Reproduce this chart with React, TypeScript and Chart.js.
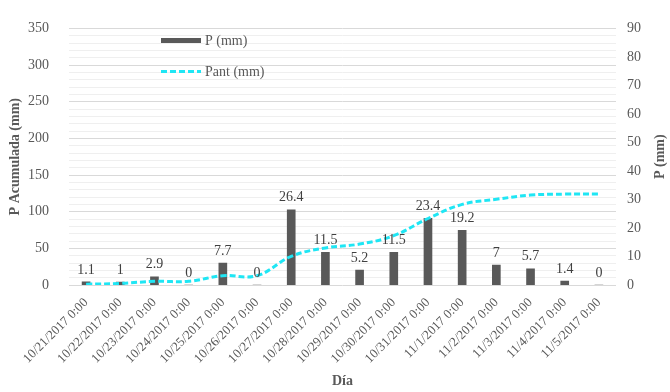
import React, { useEffect, useRef } from 'react';
import { Chart, registerables } from 'chart.js';
Chart.register(...registerables);

const categories = [
  '10/21/2017 0:00', '10/22/2017 0:00', '10/23/2017 0:00', '10/24/2017 0:00',
  '10/25/2017 0:00', '10/26/2017 0:00', '10/27/2017 0:00', '10/28/2017 0:00',
  '10/29/2017 0:00', '10/30/2017 0:00', '10/31/2017 0:00', '11/1/2017 0:00',
  '11/2/2017 0:00', '11/3/2017 0:00', '11/4/2017 0:00', '11/5/2017 0:00',
];
const pValues = [1.1, 1, 2.9, 0, 7.7, 0, 26.4, 11.5, 5.2, 11.5, 23.4, 19.2, 7, 5.7, 1.4, 0];
const pantValues = [1.1, 2.1, 5.0, 5.0, 12.7, 12.7, 39.1, 50.6, 55.8, 67.3, 90.7, 109.9, 116.9, 122.6, 124.0, 124.0];

const FONT = '"Liberation Serif", "Times New Roman", serif';
const TEXT = '#595959';
const BAR = '#595959';
const CYAN = '#1fe6f4';

const overlayPlugin = {
  id: 'overlay',
  afterDatasetsDraw(chart: any) {
    const ctx = chart.ctx;
    const meta = chart.getDatasetMeta(1);
    ctx.save();
    ctx.font = `14px ${FONT}`;
    ctx.fillStyle = '#404040';
    ctx.textAlign = 'center';
    ctx.textBaseline = 'bottom';
    meta.data.forEach((el: any, i: number) => {
      ctx.fillText(String(pValues[i]), el.x, el.y - 5);
    });
    ctx.restore();
  },
  afterDraw(chart: any) {
    const ctx = chart.ctx;
    const area = chart.chartArea;
    ctx.save();
    // legend
    ctx.fillStyle = BAR;
    ctx.fillRect(161, 38, 40, 5);
    ctx.strokeStyle = CYAN;
    ctx.lineWidth = 3;
    ctx.setLineDash([6, 3]);
    ctx.beginPath();
    ctx.moveTo(161, 71.5);
    ctx.lineTo(201, 71.5);
    ctx.stroke();
    ctx.setLineDash([]);
    ctx.font = `14px ${FONT}`;
    ctx.fillStyle = TEXT;
    ctx.textAlign = 'left';
    ctx.textBaseline = 'middle';
    ctx.fillText('P (mm)', 205, 41);
    ctx.fillText('Pant (mm)', 205, 72);
    // axis titles
    const cy = (area.top + area.bottom) / 2;
    ctx.font = `bold 14px ${FONT}`;
    ctx.fillStyle = TEXT;
    ctx.textAlign = 'center';
    ctx.textBaseline = 'middle';
    ctx.save();
    ctx.translate(15, cy);
    ctx.rotate(-Math.PI / 2);
    ctx.fillText('P Acumulada (mm)', 0, 0);
    ctx.restore();
    ctx.save();
    ctx.translate(660, cy);
    ctx.rotate(-Math.PI / 2);
    ctx.fillText('P (mm)', 0, 0);
    ctx.restore();
    ctx.fillText('Día', (area.left + area.right) / 2, 381);
    ctx.restore();
  },
};

export default function App() {
  const ref = useRef<HTMLCanvasElement>(null);
  useEffect(() => {
    document.body.style.margin = '0';
    const chart = new Chart(ref.current as HTMLCanvasElement, {
      type: 'bar',
      data: {
        labels: categories,
        datasets: [
          {
            type: 'line',
            label: 'Pant (mm)',
            data: pantValues,
            yAxisID: 'y',
            borderColor: CYAN,
            borderWidth: 3,
            borderDash: [6, 3],
            pointRadius: 0,
            tension: 0.4,
            order: 0,
          } as any,
          {
            type: 'bar',
            label: 'P (mm)',
            data: pValues,
            yAxisID: 'y1',
            backgroundColor: BAR,
            barThickness: 8,
            order: 1,
          },
        ],
      },
      options: {
        responsive: false,
        animation: false,
        layout: { padding: { top: 17, left: 0, right: 0, bottom: 0 } },
        plugins: { legend: { display: false }, tooltip: { enabled: false } },
        scales: {
          x: {
            grid: { display: false, drawTicks: false },
            border: { display: false },
            ticks: {
              autoSkip: false,
              minRotation: 45,
              maxRotation: 45,
              padding: 10,
              color: TEXT,
              font: { family: FONT, size: 13 },
            },
            afterFit: (s: any) => { s.height = 107; },
          },
          y: {
            position: 'left',
            min: 0,
            max: 350,
            ticks: {
              stepSize: 10,
              maxTicksLimit: 100,
              autoSkip: false,
              padding: 20,
              color: TEXT,
              font: { family: FONT, size: 14 },
              callback: (v: any) => (Number(v) % 50 === 0 ? String(v) : ''),
            },
            grid: {
              drawTicks: false,
              color: (c: any) => (c.tick && c.tick.value % 50 === 0 ? '#d9d9d9' : '#efefef'),
            },
            border: { display: false },
            afterFit: (s: any) => { s.width = 69; },
          },
          y1: {
            position: 'right',
            min: 0,
            max: 90,
            ticks: {
              stepSize: 10,
              maxTicksLimit: 100,
              autoSkip: false,
              padding: 11,
              color: TEXT,
              font: { family: FONT, size: 14 },
            },
            grid: { display: false, drawTicks: false },
            border: { display: false },
            afterFit: (s: any) => { s.width = 54; },
          },
        },
      },
      plugins: [overlayPlugin],
    });
    return () => chart.destroy();
  }, []);
  return (
    <div style={{ width: 670, height: 392 }}>
      <canvas ref={ref} width={670} height={392} style={{ display: 'block' }} />
    </div>
  );
}
